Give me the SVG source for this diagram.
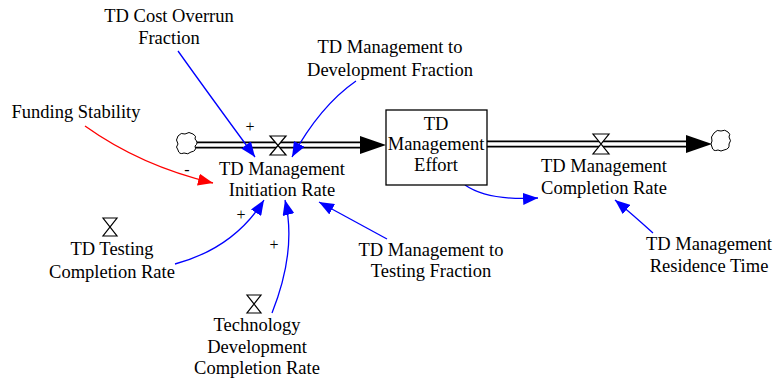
<svg xmlns="http://www.w3.org/2000/svg" width="774" height="381" viewBox="0 0 774 381">
<defs>
<style>
.t{font-family:'Liberation Serif','Times New Roman',serif;font-size:18.5px;text-anchor:middle;fill:#000}
.s{font-family:'Liberation Serif','Times New Roman',serif;font-size:16px;text-anchor:middle;fill:#000}
.link{fill:none;stroke:#0000ff;stroke-width:1.3}
.valve{fill:#fff;stroke:#000;stroke-width:1.2}
</style>
<marker id="ab" markerUnits="userSpaceOnUse" markerWidth="16" markerHeight="12" refX="15" refY="6" orient="auto"><path d="M0,0 L15,6 L0,12 z" fill="#0000ff"/></marker>
<marker id="ar" markerUnits="userSpaceOnUse" markerWidth="16" markerHeight="12" refX="15" refY="6" orient="auto"><path d="M0,0 L15,6 L0,12 z" fill="#ff0000"/></marker>
</defs>
<rect width="774" height="381" fill="#fff"/>
<g id="connectors">
<path d="M195,145 L362,145" fill="none" stroke="#000" stroke-width="7"/>
<path d="M194,145 L363,145" fill="none" stroke="#fff" stroke-width="3.4"/>
<polygon points="360,136 386,145 360,154" fill="#000"/>
<path d="M487,144 L688,144" fill="none" stroke="#000" stroke-width="7"/>
<path d="M487,144 L689,144" fill="none" stroke="#fff" stroke-width="3.4"/>
<polygon points="686,135 712,144 686,153" fill="#000"/>
<path class="link" d="M178,51 Q208,93 255,157" marker-end="url(#ab)"/>
<path class="link" d="M356,81 Q320,106 292,157" marker-end="url(#ab)"/>
<path class="link" d="M175,264 Q234,248 264,200" marker-end="url(#ab)"/>
<path class="link" d="M272,313 Q297,250 285,200" marker-end="url(#ab)"/>
<path class="link" d="M387,239 Q352,220 319,202" marker-end="url(#ab)"/>
<path class="link" d="M465,185 Q488,201 538,198" marker-end="url(#ab)"/>
<path class="link" d="M653,233 Q632,214 615,200" marker-end="url(#ab)"/>
<path d="M85,126 Q141,166 213,183" fill="none" stroke="#ff0000" stroke-width="1.3" marker-end="url(#ar)"/>
<text class="s" x="250" y="132" font-family="Liberation Serif">+</text>
<text class="s" x="187" y="175" font-family="Liberation Serif">-</text>
<text class="s" x="241" y="220" font-family="Liberation Serif">+</text>
<text class="s" x="274" y="250" font-family="Liberation Serif">+</text>
</g>
<g id="source-cloud">
<path d="M178,136 q3,-4 7,-2 q4,-3 8,0 q4,2 2,5 q4,4 0,7 q2,5 -4,6 q-3,3 -7,1 q-5,2 -6,-3 q-3,-3 0,-6 q-3,-4 0,-8 z" fill="#fff" stroke="#000"/>
</g>
<g id="initiation-rate">
<path class="valve" d="M270,136 L286,136 L270,155 L286,155 z"/>
<text class="t" x="282" y="175" font-family="Liberation Serif">TD Management</text>
<text class="t" x="282" y="196" font-family="Liberation Serif">Initiation Rate</text>
</g>
<g id="effort">
<rect x="386" y="110" width="101" height="75" fill="#fff" stroke="#000" stroke-width="1.3"/>
<text class="t" x="436" y="130" font-family="Liberation Serif">TD</text>
<text class="t" x="436" y="150" font-family="Liberation Serif">Management</text>
<text class="t" x="436" y="171" font-family="Liberation Serif">Effort</text>
</g>
<g id="completion-rate">
<path class="valve" d="M593,134 L609,134 L593,154 L609,154 z"/>
<text class="t" x="604" y="172" font-family="Liberation Serif">TD Management</text>
<text class="t" x="604" y="194" font-family="Liberation Serif">Completion Rate</text>
</g>
<g id="sink-cloud">
<path d="M714,133 q3,-4 7,-2 q4,-2 7,1 q3,2 1,5 q3,4 0,7 q1,5 -5,6 q-3,2 -6,0 q-5,2 -6,-3 q-2,-3 0,-6 q-2,-4 2,-8 z" fill="#fff" stroke="#000"/>
</g>
<g id="cost-overrun">
<text class="t" x="169" y="22" font-family="Liberation Serif">TD Cost Overrun</text>
<text class="t" x="169" y="44" font-family="Liberation Serif">Fraction</text>
</g>
<g id="mgmt-to-dev">
<text class="t" x="390" y="53" font-family="Liberation Serif">TD Management to</text>
<text class="t" x="390" y="76" font-family="Liberation Serif">Development Fraction</text>
</g>
<g id="funding-stability">
<text class="t" x="76" y="118" font-family="Liberation Serif">Funding Stability</text>
</g>
<g id="testing-completion">
<path class="valve" d="M103,218 L117,218 L103,236 L117,236 z"/>
<text class="t" x="112" y="255" font-family="Liberation Serif">TD Testing</text>
<text class="t" x="112" y="278" font-family="Liberation Serif">Completion Rate</text>
</g>
<g id="tech-dev-completion">
<path class="valve" d="M247,295 L261,295 L247,313 L261,313 z"/>
<text class="t" x="257" y="331" font-family="Liberation Serif">Technology</text>
<text class="t" x="257" y="353" font-family="Liberation Serif">Development</text>
<text class="t" x="257" y="374" font-family="Liberation Serif">Completion Rate</text>
</g>
<g id="mgmt-to-testing">
<text class="t" x="431" y="256" font-family="Liberation Serif">TD Management to</text>
<text class="t" x="431" y="277" font-family="Liberation Serif">Testing Fraction</text>
</g>
<g id="residence-time">
<text class="t" x="709" y="250" font-family="Liberation Serif">TD Management</text>
<text class="t" x="709" y="272" font-family="Liberation Serif">Residence Time</text>
</g>
</svg>
